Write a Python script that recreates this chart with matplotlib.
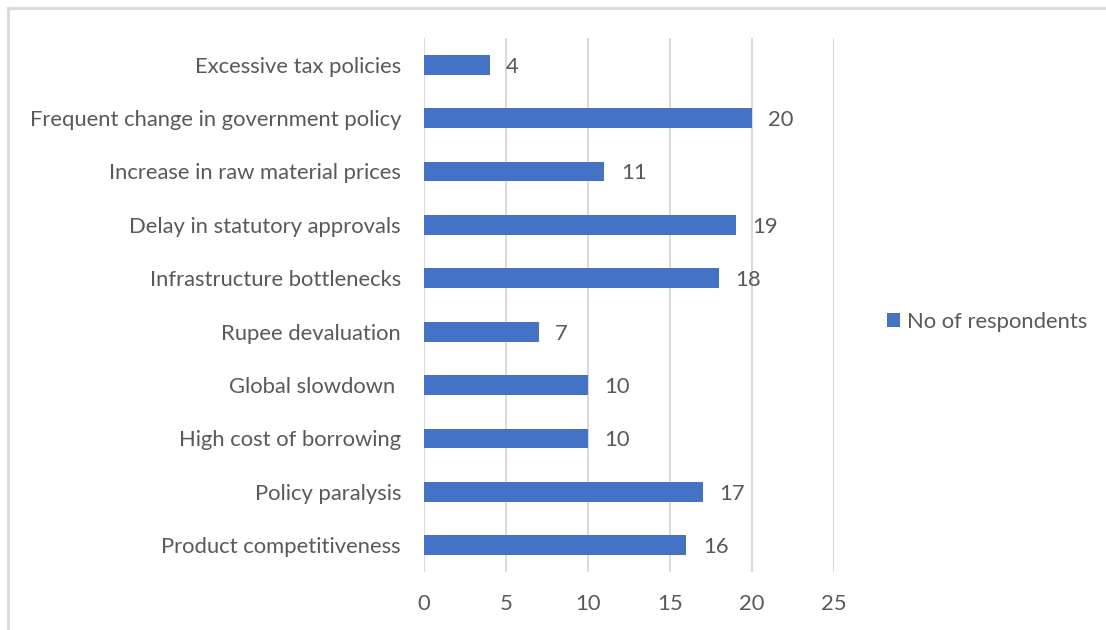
import matplotlib.pyplot as plt
from matplotlib.lines import Line2D
from matplotlib.patches import Patch

plt.rcParams['font.family'] = ['Lato', 'DejaVu Sans']

categories = [
    "Product competitiveness",
    "Policy paralysis",
    "High cost of borrowing",
    "Global slowdown ",
    "Rupee devaluation",
    "Infrastructure bottlenecks",
    "Delay in statutory approvals",
    "Increase in raw material prices",
    "Frequent change in government policy",
    "Excessive tax policies",
]
respondents = [16, 17, 10, 10, 7, 18, 19, 11, 20, 4]
x_ticks = [0, 5, 10, 15, 20, 25]
series_name = "No of respondents"

bar_color = "#4472C4"
text_color = "#595959"
grid_color = "#D9D9D9"
fs = 15.8

fig = plt.figure(figsize=(11.06, 6.30), dpi=100)
ax = fig.add_axes([424 / 1106, 1 - 572 / 630, (834 - 424) / 1106, (572 - 38) / 630])

ypos = list(range(len(categories)))
ax.barh(ypos, respondents, height=0.37, color=bar_color, zorder=3)

for y, v in zip(ypos, respondents):
    ax.text(v + 1.0, y, str(v), va="center_baseline", ha="left", fontsize=fs,
            color=text_color)

ax.set_xlim(0, 25)
ax.set_ylim(-0.5, len(categories) - 0.5)
ax.set_xticks(x_ticks)
ax.set_xticklabels([str(t) for t in x_ticks], fontsize=fs, color=text_color)
ax.set_yticks(ypos)
ax.set_yticklabels(categories, fontsize=fs, color=text_color)
ax.tick_params(axis="both", length=0)
ax.tick_params(axis="y", pad=16.5)
ax.tick_params(axis="x", pad=16)

ax.grid(axis="x", color=grid_color, linewidth=1.4, zorder=0)
for s in ax.spines.values():
    s.set_visible(False)

handle = Patch(facecolor=bar_color, edgecolor="none")
fig.legend([handle], [series_name], loc="center left",
           bbox_to_anchor=(867 / 1106, 1 - 322 / 630), frameon=False,
           fontsize=fs, labelcolor=text_color, handlelength=0.6,
           handleheight=0.6, handletextpad=0.3)

# chart area outline (left and top edges)
fig.add_artist(Line2D([7.5 / 1106, 7.5 / 1106], [0, 1 - 8 / 630],
                      transform=fig.transFigure, color=grid_color, linewidth=2))
fig.add_artist(Line2D([7.5 / 1106, 1], [1 - 8 / 630, 1 - 8 / 630],
                      transform=fig.transFigure, color=grid_color, linewidth=2))

fig.savefig("out.png", dpi=100, facecolor="white")
